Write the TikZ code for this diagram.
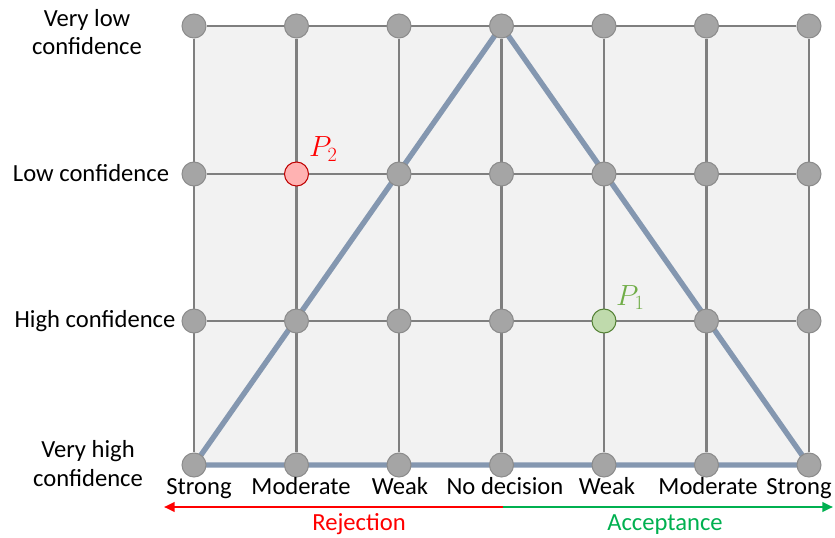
\documentclass[tikz,border=0pt]{standalone}
\usepackage{fontspec}
\setmainfont{Carlito}
\usetikzlibrary{
  arrows.meta,
  backgrounds,
  positioning
}
\definecolor{gdGrid}{HTML}{7F7F7F}
\definecolor{gdDot}{HTML}{A5A5A5}
\definecolor{gdDotLine}{HTML}{8C8C8C}
\definecolor{gdBack}{HTML}{F2F2F2}
\definecolor{gdTri}{HTML}{8497B0}
\definecolor{gdRej}{HTML}{FF0000}
\definecolor{gdAcc}{HTML}{00B050}
\definecolor{gdPone}{HTML}{70AD47}

\begin{document}
\begin{tikzpicture}[x=0.03cm, y=-0.03cm,
    dot/.style={circle, fill=gdDot, draw=gdDotLine, line width=0.9pt,
      minimum size=0.72cm, inner sep=0pt},
    pt-2-2/.style={fill=red!30!white, draw=red!75!black},
    pt-5-3/.style={fill=gdPone!45!white, draw=gdPone!75!black},
    lab/.style={font=\fontsize{21}{24.7}\selectfont, inner sep=0pt, anchor=base},
    grid line/.style={draw=gdGrid, line width=2.1pt},
    tri line/.style={draw=gdTri, line width=4.6pt, line join=round},
    side/.style={line width=2pt, -{Triangle[length=9pt, width=8pt]}}]
  \useasboundingbox (0,0) rectangle (835,538);

  % decision points
  \foreach \x [count=\i] in {194,296.5,399,501.5,604,706.5,809} {
    \foreach \y [count=\j] in {26,174,321,465} {
      \node[dot, pt-\i-\j/.try] (n-\i-\j) at (\x,\y) {};
    }
  }

  \begin{scope}[on background layer]
    \fill[gdBack] (n-1-1.center) rectangle (n-7-4.center);
    \foreach \j in {1,...,4}
      \draw[grid line] (n-1-\j) -- (n-7-\j);
    \foreach \i in {1,...,7}
      \draw[grid line] (n-\i-1) -- (n-\i-4);
    \draw[tri line] (n-1-4.center) -- (n-4-1.center) -- (n-7-4.center) -- cycle;
  \end{scope}

  % confidence levels
  \node[lab, align=center] (vlow)  at (87,55)  {Very low\\confidence};
  \node[lab]               (low)   at (91,182) {Low confidence};
  \node[lab]               (high)  at (95,327) {High confidence};
  \node[lab, align=center] (vhigh) at (88,486) {Very high\\confidence};

  % strength of evidence
  \foreach \i/\x/\name in {1/199/Strong, 2/301/Moderate, 3/400/Weak,
      4/505/{No decision}, 5/607/Weak, 6/708/Moderate, 7/799/Strong}
    \node[lab] (s-\i) at (\x,494) {\name};

  % points
  \node[anchor=base west, inner sep=0pt, text=gdRej,
    font=\fontsize{23}{27}\selectfont] (p2) at (309,157) {$P_2$};
  \node[anchor=base west, inner sep=0pt, text=gdPone,
    font=\fontsize{23}{27}\selectfont] (p1) at (616,305) {$P_1$};

  % decision axis
  \coordinate (mid) at (503,507);
  \coordinate (rej) at (164,507);
  \coordinate (acc) at (833,507);
  \draw[side, gdRej] (mid) -- (rej);
  \draw[side, gdAcc] (mid) -- (acc);
  \node[lab, text=gdRej] (rejection)  at (359,530) {Rejection};
  \node[lab, text=gdAcc] (acceptance) at (665,530) {Acceptance};
\end{tikzpicture}
\end{document}
